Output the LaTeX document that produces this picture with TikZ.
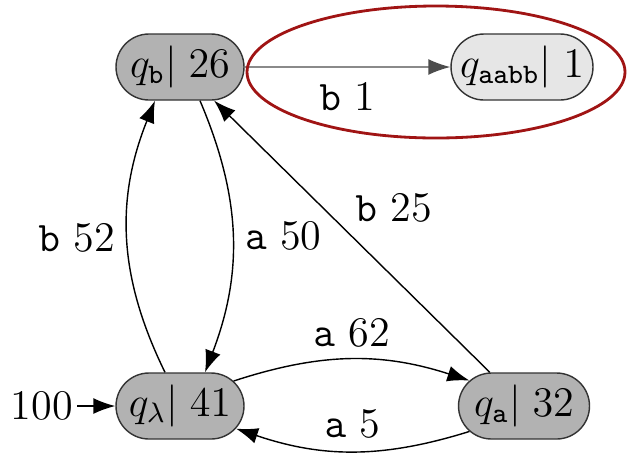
\documentclass[tikz,border=0pt]{standalone}
\usetikzlibrary{shapes.misc,arrows.meta}

\definecolor{statefill}{RGB}{178,178,178}
\definecolor{lightfill}{RGB}{230,230,230}
\definecolor{ringred}{RGB}{160,20,20}

\tikzset{
  state/.style={rounded rectangle, draw=black!80, fill=statefill, minimum height=0.66cm, minimum width=1.35cm, inner xsep=1pt, font=\large},
  trans/.style={-{Latex[length=2.2mm,width=1.6mm]}, thin},
  lbl/.style={font=\large}
}

\begin{document}
\begin{tikzpicture}
  \useasboundingbox (0,0) rectangle (6.27,4.55);

  % states
  \node[state] (qb) at (1.80,3.88) {$q_{\mathtt{b}}|\;26$};
  \node[state, fill=lightfill, minimum width=1.49cm] (qaabb) at (5.22,3.88) {$q_{\mathtt{aabb}}|\;1$};
  \node[state] (ql) at (1.80,0.49) {$q_{\lambda}|\;41$};
  \node[state, minimum width=1.38cm] (qa) at (5.24,0.49) {$q_{\mathtt{a}}|\;32$};

  % initial weight
  \node[font=\large, anchor=east, inner xsep=1pt] (init) at (0.77,0.49) {100};
  \draw[trans] (init) -- (ql);

  % transitions
  \draw[trans, draw=black!70] (qb) -- node[lbl, below=1pt] {$\mathtt{b}$ 1} (qaabb);
  \draw[trans] ([xshift=2mm]qb.south) to[bend left=22] node[lbl, right] {$\mathtt{a}$ 50} ([xshift=2.5mm]ql.north);
  \draw[trans] ([xshift=-1.5mm]ql.north) to[bend left=24] node[lbl, left] {$\mathtt{b}$ 52} ([xshift=-2.5mm]qb.south);
  \draw[trans] (qa) -- node[lbl, pos=0.52, above right=-1pt] {$\mathtt{b}$ 25} (qb);
  \draw[trans] (ql.25) to[bend left=18] node[lbl, above] {$\mathtt{a}$ 62} (qa.155);
  \draw[trans] (qa.205) to[bend left=18] node[lbl, above] {$\mathtt{a}$ 5} (ql.338);

  % highlight ring
  \draw[ringred, thick] (4.36,3.83) ellipse (1.89 and 0.66);
\end{tikzpicture}
\end{document}
